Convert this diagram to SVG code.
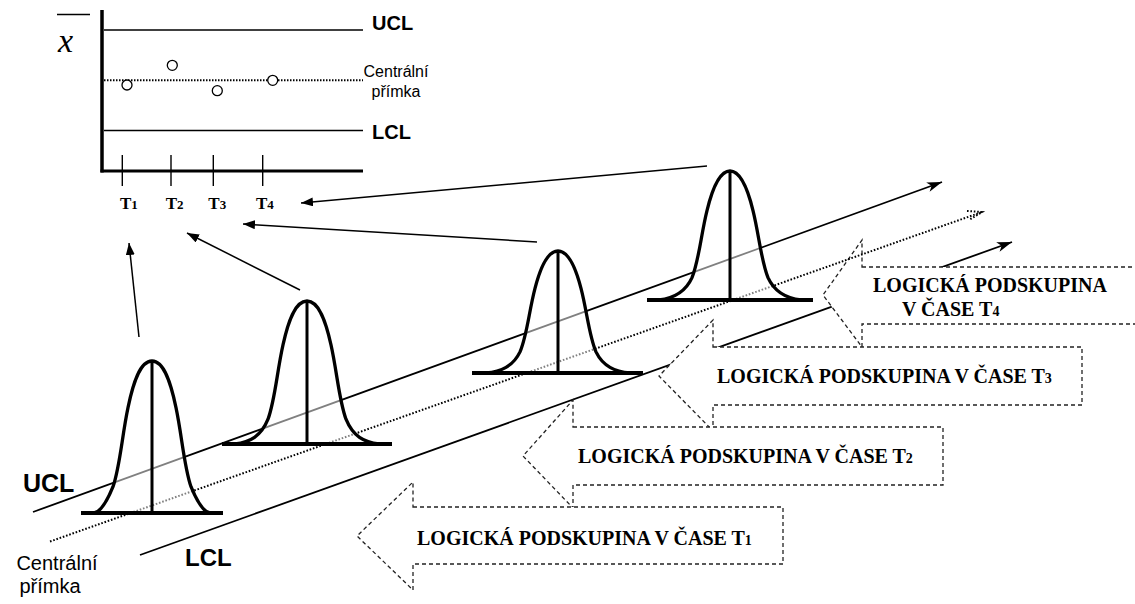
<svg xmlns="http://www.w3.org/2000/svg" width="1135" height="604" viewBox="0 0 1135 604">
<defs>
<style>
.ln{stroke:#000;stroke-width:1.4;fill:none}
.diag{stroke:#000;stroke-width:1.8;fill:none}
.dot{stroke:#000;stroke-width:2;stroke-dasharray:1.6 1.8;fill:none}
.call{fill:#fff;stroke:#222;stroke-width:1.3;stroke-dasharray:4 3}
.bell{fill:#fff;fill-opacity:0.5;stroke:#000;stroke-width:3.3;stroke-linejoin:round}
.base{stroke:#000;stroke-width:3.8;fill:none}
.mid{stroke:#000;stroke-width:3;fill:none}
.cap{font-family:"Liberation Serif","Times New Roman",serif;font-weight:bold;font-size:20px;fill:#000}
.tl{font-family:"Liberation Serif","Times New Roman",serif;font-weight:bold;font-size:17px;fill:#000}
.sans{font-family:"Liberation Sans",Arial,sans-serif;fill:#000}
.arr{stroke:#000;stroke-width:1.5;fill:none;marker-end:url(#ah)}
</style>
<marker id="ah" markerUnits="userSpaceOnUse" markerWidth="14" markerHeight="10" refX="12" refY="4.5" orient="auto">
<path d="M0,0 L12,4.5 L0,9 Z" fill="#000"/>
</marker>
<marker id="st" markerUnits="userSpaceOnUse" markerWidth="18" markerHeight="12" refX="15" refY="5" orient="auto">
<path d="M0,0 L15,5 L0,10 L4,5 Z" fill="#000"/>
</marker>
</defs>
<rect width="1135" height="604" fill="#fff"/>

<g id="chart">
<line x1="57" y1="14.5" x2="90" y2="14.5" stroke="#000" stroke-width="1.6"/>
<text x="58" y="52" font-family="'Liberation Serif','Times New Roman',serif" font-style="italic" font-size="34" fill="#000">x</text>
<line x1="102" y1="10" x2="102" y2="172.5" stroke="#000" stroke-width="3.5"/>
<line x1="100.5" y1="171" x2="363" y2="171" stroke="#000" stroke-width="3"/>
<line class="ln" x1="104" y1="30" x2="363" y2="30"/>
<line class="ln" x1="104" y1="130.5" x2="363" y2="130.5"/>
<line x1="104" y1="80.3" x2="363" y2="80.3" stroke="#000" stroke-width="2" stroke-dasharray="1.5 1.5"/>
<line class="ln" x1="122.3" y1="155" x2="122.3" y2="186"/>
<line class="ln" x1="171" y1="155" x2="171" y2="186"/>
<line class="ln" x1="213.3" y1="155" x2="213.3" y2="186"/>
<line class="ln" x1="262.7" y1="155" x2="262.7" y2="186"/>
<circle cx="127" cy="85" r="5" fill="#fff" stroke="#000" stroke-width="1.3"/>
<circle cx="172.3" cy="65.3" r="5" fill="#fff" stroke="#000" stroke-width="1.3"/>
<circle cx="217.3" cy="90.7" r="5" fill="#fff" stroke="#000" stroke-width="1.3"/>
<circle cx="272.7" cy="80.3" r="5" fill="#fff" stroke="#000" stroke-width="1.3"/>
<text class="sans" x="372" y="30" font-size="20" font-weight="bold">UCL</text>
<text class="sans" x="396" y="77" font-size="16" text-anchor="middle">Centrální</text>
<text class="sans" x="396" y="97" font-size="16" text-anchor="middle">přímka</text>
<text class="sans" x="372" y="139" font-size="20" font-weight="bold">LCL</text>
<text class="tl" x="120" y="209">T<tspan font-size="13">1</tspan></text>
<text class="tl" x="165.7" y="209">T<tspan font-size="13">2</tspan></text>
<text class="tl" x="208.3" y="209">T<tspan font-size="13">3</tspan></text>
<text class="tl" x="256" y="209">T<tspan font-size="13">4</tspan></text>
</g>

<g id="lcl-line">
<line class="diag" x1="140" y1="555" x2="1012" y2="242" marker-end="url(#st)"/>
</g>

<g id="callout-t4">
<path class="call" d="M862,267 L1160,267 L1160,324 L862,324 L862,347 L823,295 L862,240 Z"/>
<text class="cap" x="873" y="292">LOGICKÁ PODSKUPINA</text>
<text class="cap" x="902" y="316">V ČASE T<tspan font-size="14">4</tspan></text>
</g>
<g id="callout-t3">
<path class="call" d="M713,347 L1082,347 L1082,405 L713,405 L713,431 L659,376 L713,320 Z"/>
<text class="cap" x="717" y="383">LOGICKÁ PODSKUPINA V ČASE T<tspan font-size="14">3</tspan></text>
</g>
<g id="callout-t2">
<path class="call" d="M573,427 L943,427 L943,485 L573,485 L573,508 L523,456 L573,400 Z"/>
<text class="cap" x="578" y="463">LOGICKÁ PODSKUPINA V ČASE T<tspan font-size="14">2</tspan></text>
</g>
<g id="callout-t1">
<path class="call" d="M413,507 L783,507 L783,564 L413,564 L413,590 L357,536 L413,482 Z"/>
<text class="cap" x="417" y="545">LOGICKÁ PODSKUPINA V ČASE T<tspan font-size="14">1</tspan></text>
</g>

<g id="ucl-center-lines">
<line class="diag" x1="33" y1="512" x2="942" y2="182" marker-end="url(#st)"/>
<line class="dot" x1="50" y1="541.5" x2="982" y2="212"/>
<path d="M967,211 L982,212 L969,220" fill="none" stroke="#000" stroke-width="2" stroke-dasharray="1.6 1.8"/>
<text class="sans" x="23" y="492" font-size="25" font-weight="bold">UCL</text>
<text class="sans" x="57" y="570" font-size="20" text-anchor="middle">Centrální</text>
<text class="sans" x="50" y="593" font-size="20" text-anchor="middle">přímka</text>
<text class="sans" x="185" y="566" font-size="24" font-weight="bold">LCL</text>
</g>

<g id="bell-t1">
<path class="bell" d="M94,513 C100,512 106,503.9 113,486.7 C120,466.4 122,436 128,407.6 C133,383.3 140,361 152,361 C164,361 171,383.3 176,407.6 C182,436 184,466.4 191,486.7 C198,503.9 204,512 210,513 Z"/>
<line class="base" x1="81" y1="513" x2="223" y2="513"/>
<line class="mid" x1="152" y1="513" x2="152" y2="361"/>
</g>
<g id="bell-t2">
<path class="bell" d="M235,444 C250,442.1 261,436.4 268,419.2 C275,400.2 277,371.6 283,344.9 C288,322 295,301 307,301 C319,301 326,322 331,344.9 C337,371.6 339,400.2 346,419.2 C353,436.4 364,442.1 379,444 Z"/>
<line class="base" x1="222" y1="444" x2="392" y2="444"/>
<line class="mid" x1="307" y1="444" x2="307" y2="301"/>
</g>
<g id="bell-t3">
<path class="bell" d="M486,373 C501,371.4 513,366.5 520,351.9 C527,335.6 529,311.2 535,288.4 C540,268.9 547,251 558,251 C569,251 576,268.9 581,288.4 C587,311.2 589,335.6 596,351.9 C603,366.5 615,371.4 630,373 Z"/>
<line class="base" x1="472" y1="373" x2="643" y2="373"/>
<line class="mid" x1="558" y1="373" x2="558" y2="251"/>
</g>
<g id="bell-t4">
<path class="bell" d="M659,300 C673,298.3 685,293.1 692,277.6 C699,260.4 701,234.6 707,210.6 C712,189.9 719,171 730,171 C741,171 748,189.9 753,210.6 C759,234.6 761,260.4 768,277.6 C775,293.1 787,298.3 801,300 Z"/>
<line class="base" x1="647" y1="300" x2="813" y2="300"/>
<line class="mid" x1="730" y1="300" x2="730" y2="171"/>
</g>

<g id="connectors">
<line class="arr" x1="139" y1="337" x2="129" y2="243"/>
<line class="arr" x1="300" y1="290" x2="187" y2="233"/>
<line class="arr" x1="537" y1="242" x2="243" y2="224"/>
<line class="arr" x1="707" y1="166" x2="301" y2="203"/>
</g>
</svg>
